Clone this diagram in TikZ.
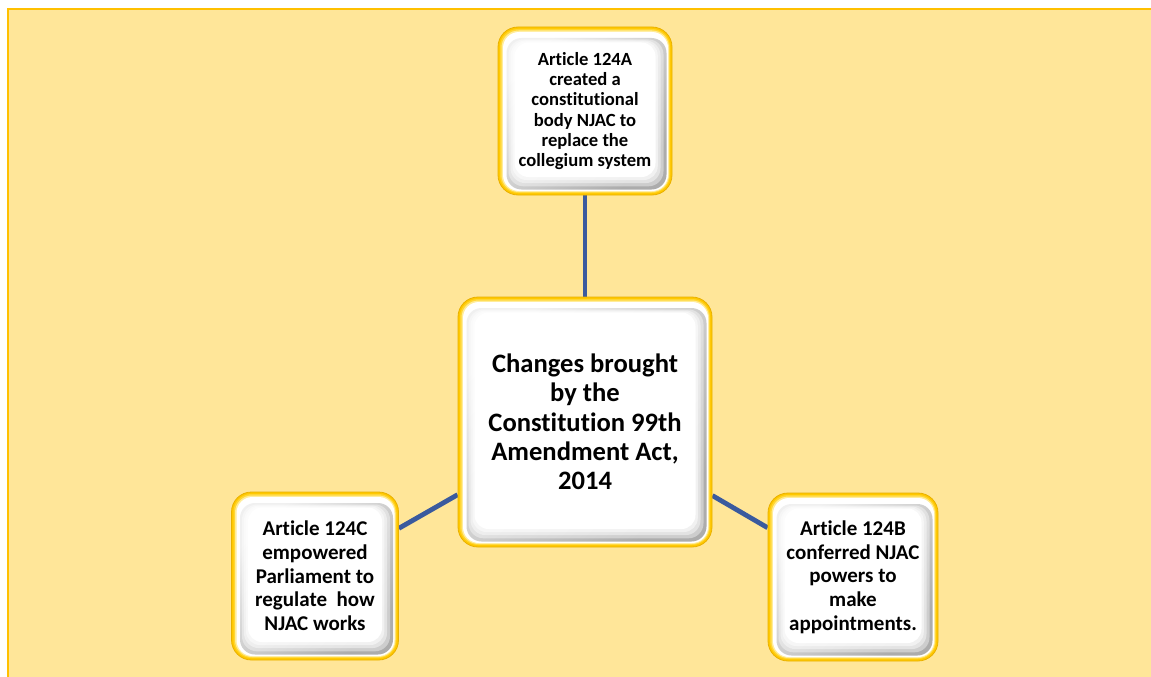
\documentclass[tikz,border=0pt]{standalone}
\usepackage{fontspec}
\setmainfont{Carlito}[Ligatures=NoCommon]
\usetikzlibrary{calc}

\definecolor{pagebg}{HTML}{FFE699}
\definecolor{pageline}{HTML}{FFC000}
\definecolor{goldedge}{HTML}{E8B000}
\definecolor{goldfill}{HTML}{FFC800}
\definecolor{goldmid}{HTML}{FFD633}
\definecolor{goldpale}{HTML}{FFEC99}
\definecolor{linkblue}{HTML}{3A5A9E}

\pgfdeclarelayer{bg}
\pgfsetlayers{bg,main}

% rounded rectangle inset from the node's edges: options, left, top, right, bottom
\newcommand\insetrect[5]{%
  \path[#1] ($(pp-sw)+(#2,#5)$) rectangle ($(pp-ne)+(-#4,-#3)$);}

\tikzset{
  card/.style={
    rounded corners=20pt, fill=goldfill, draw=goldedge, line width=0.8pt,
    align=center, inner sep=0pt, text=black,
    path picture={
      \coordinate (pp-sw) at (path picture bounding box.south west);
      \coordinate (pp-ne) at (path picture bounding box.north east);
      \insetrect{fill=goldmid, rounded corners=18pt}{2}{2}{2}{2}
      \insetrect{fill=goldpale, rounded corners=17pt}{3.5}{3.5}{3}{3}
      \insetrect{fill=white, rounded corners=16pt}{5}{5}{4}{4}
      \insetrect{top color=gray!12, bottom color=gray!65, shading angle=45,
                 rounded corners=15pt}{8.5}{11}{5.5}{5.5}
      \insetrect{fill=white, fill opacity=0.4, rounded corners=15pt}{10.5}{12.5}{8.5}{8.7}
      \insetrect{fill=white, fill opacity=0.45, rounded corners=15pt}{12.5}{13.5}{11.5}{11.9}
      \insetrect{fill=white, fill opacity=0.5, rounded corners=14pt}{14.5}{14.5}{14.2}{15}
      \insetrect{fill=white, rounded corners=14pt}{16.5}{15.5}{16.5}{18}
    }},
  hubtext/.style={font=\fontsize{26.6}{29.3}\selectfont\bfseries},
  toptext/.style={font=\fontsize{18.6}{20.3}\selectfont\bfseries},
  sidetext/.style={font=\fontsize{21}{23.7}\selectfont\bfseries},
  link/.style={draw=linkblue, line width=4.8pt}
}

\begin{document}
\begin{tikzpicture}[x=1pt, y=1pt]
  \useasboundingbox (0,0) rectangle (1151,-677);

  % page background with its frame on the top and left
  \begin{pgfonlayer}{bg}
    \fill[white] (0,0) rectangle (1151,-677);
    \fill[pagebg] (8,-9) rectangle (1151,-677);
    \draw[pageline, line width=2.2pt] (8,-677) -- (8,-9) -- (1151,-9);
  \end{pgfonlayer}

  % the four boxes
  \node[card, hubtext, minimum width=254pt, minimum height=250pt] (hub) at (585,-422)
    {Changes brought\\by the\\Constitution 99th\\Amendment Act,\\2014};
  \node[card, toptext, minimum width=174pt, minimum height=168pt] (art124a) at (585,-111)
    {Article 124A\\created a\\constitutional\\body NJAC to\\replace the\\collegium system};
  \node[card, sidetext, minimum width=167pt, minimum height=168pt] (art124c) at (315,-576)
    {Article 124C\\empowered\\Parliament to\\regulate~ how\\NJAC works};
  \node[card, sidetext, minimum width=170pt, minimum height=168pt] (art124b) at (853,-577)
    {Article 124B\\conferred NJAC\\powers to\\make\\appointments.};

  % connectors from the hub
  \begin{pgfonlayer}{bg}
    \draw[link] (hub) -- (art124a);
    \draw[link] (hub) -- (art124c);
    \draw[link] (hub) -- (art124b);
  \end{pgfonlayer}
\end{tikzpicture}
\end{document}
